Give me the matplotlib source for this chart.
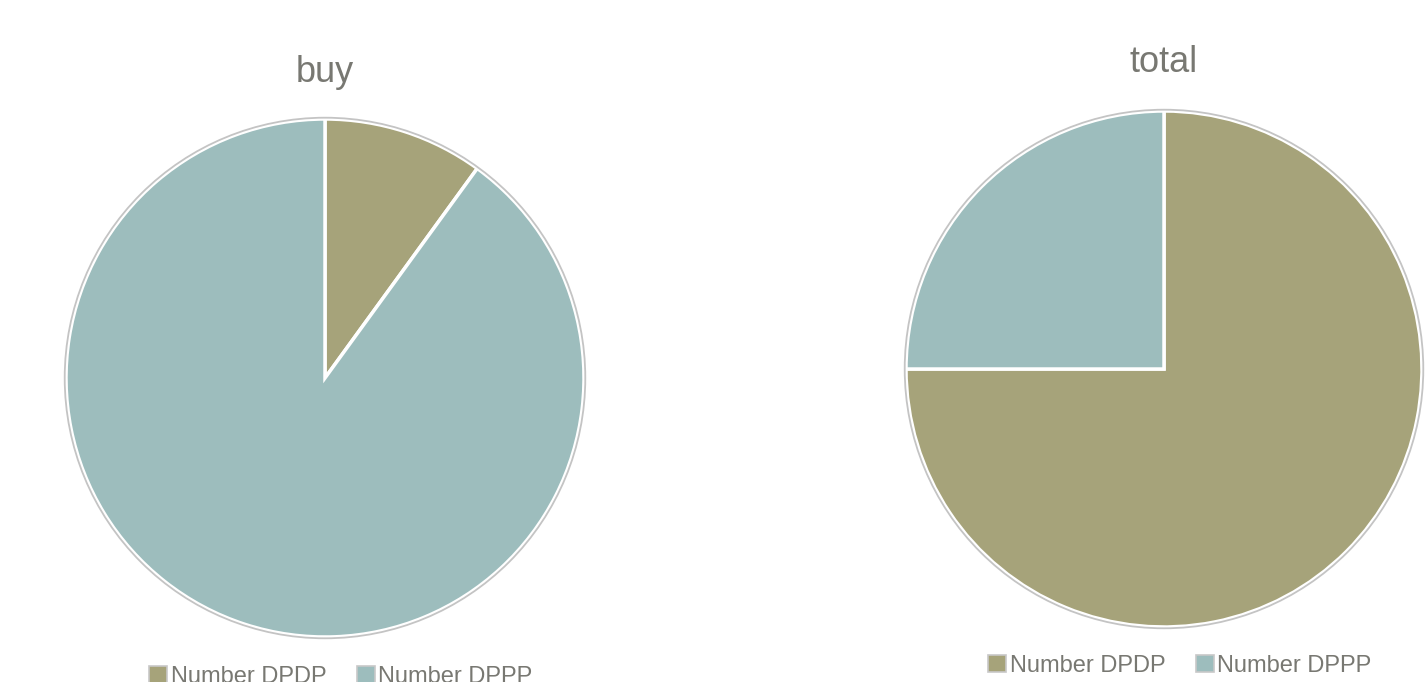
import matplotlib.pyplot as plt
from matplotlib.patches import Patch, Circle

plt.rcParams["font.family"] = ["Liberation Sans", "DejaVu Sans"]

labels = ["Number DPDP", "Number DPPP"]
buy = [10, 90]
total = [75, 25]
colors = ["#a6a37a", "#9dbdbd"]
text_color = "#787872"

W, H = 1426, 682
fig = plt.figure(figsize=(W / 100, H / 100), dpi=100)


def pie_panel(cx, cy, r, values, title, title_y, legend_y, legend_x):
    # cx, cy in pixels from top-left, r = pie radius in pixels
    pad = 1.02
    a = r * pad
    ax = fig.add_axes([(cx - a) / W, (H - cy - a) / H, 2 * a / W, 2 * a / H])
    ax.pie(values, colors=colors, startangle=90, counterclock=False,
           wedgeprops=dict(edgecolor="white", linewidth=2.5))
    ax.add_patch(Circle((0, 0), 1.005, fill=False, edgecolor="#c4c4c4", linewidth=1.3))
    ax.set_xlim(-pad, pad)
    ax.set_ylim(-pad, pad)
    ax.set_aspect("equal")
    ax.axis("off")
    fig.text(cx / W, 1 - title_y / H, title, ha="center", va="center",
             fontsize=26, color=text_color)
    handles = [Patch(facecolor=c, edgecolor="#c8c8c8", linewidth=1.2) for c in colors]
    fig.legend(handles, labels, loc="center", bbox_to_anchor=(legend_x / W, 1 - legend_y / H),
               ncol=2, frameon=False, fontsize=17, labelcolor=text_color,
               handlelength=0.75, handleheight=0.75, handletextpad=0.15,
               columnspacing=1.3, borderpad=0, borderaxespad=0)


pie_panel(325, 378, 259, buy, "buy", 73, 677, 341)
pie_panel(1164, 369, 258, total, "total", 63, 666, 1180)

fig.savefig("out.png", dpi=100, facecolor="white")
